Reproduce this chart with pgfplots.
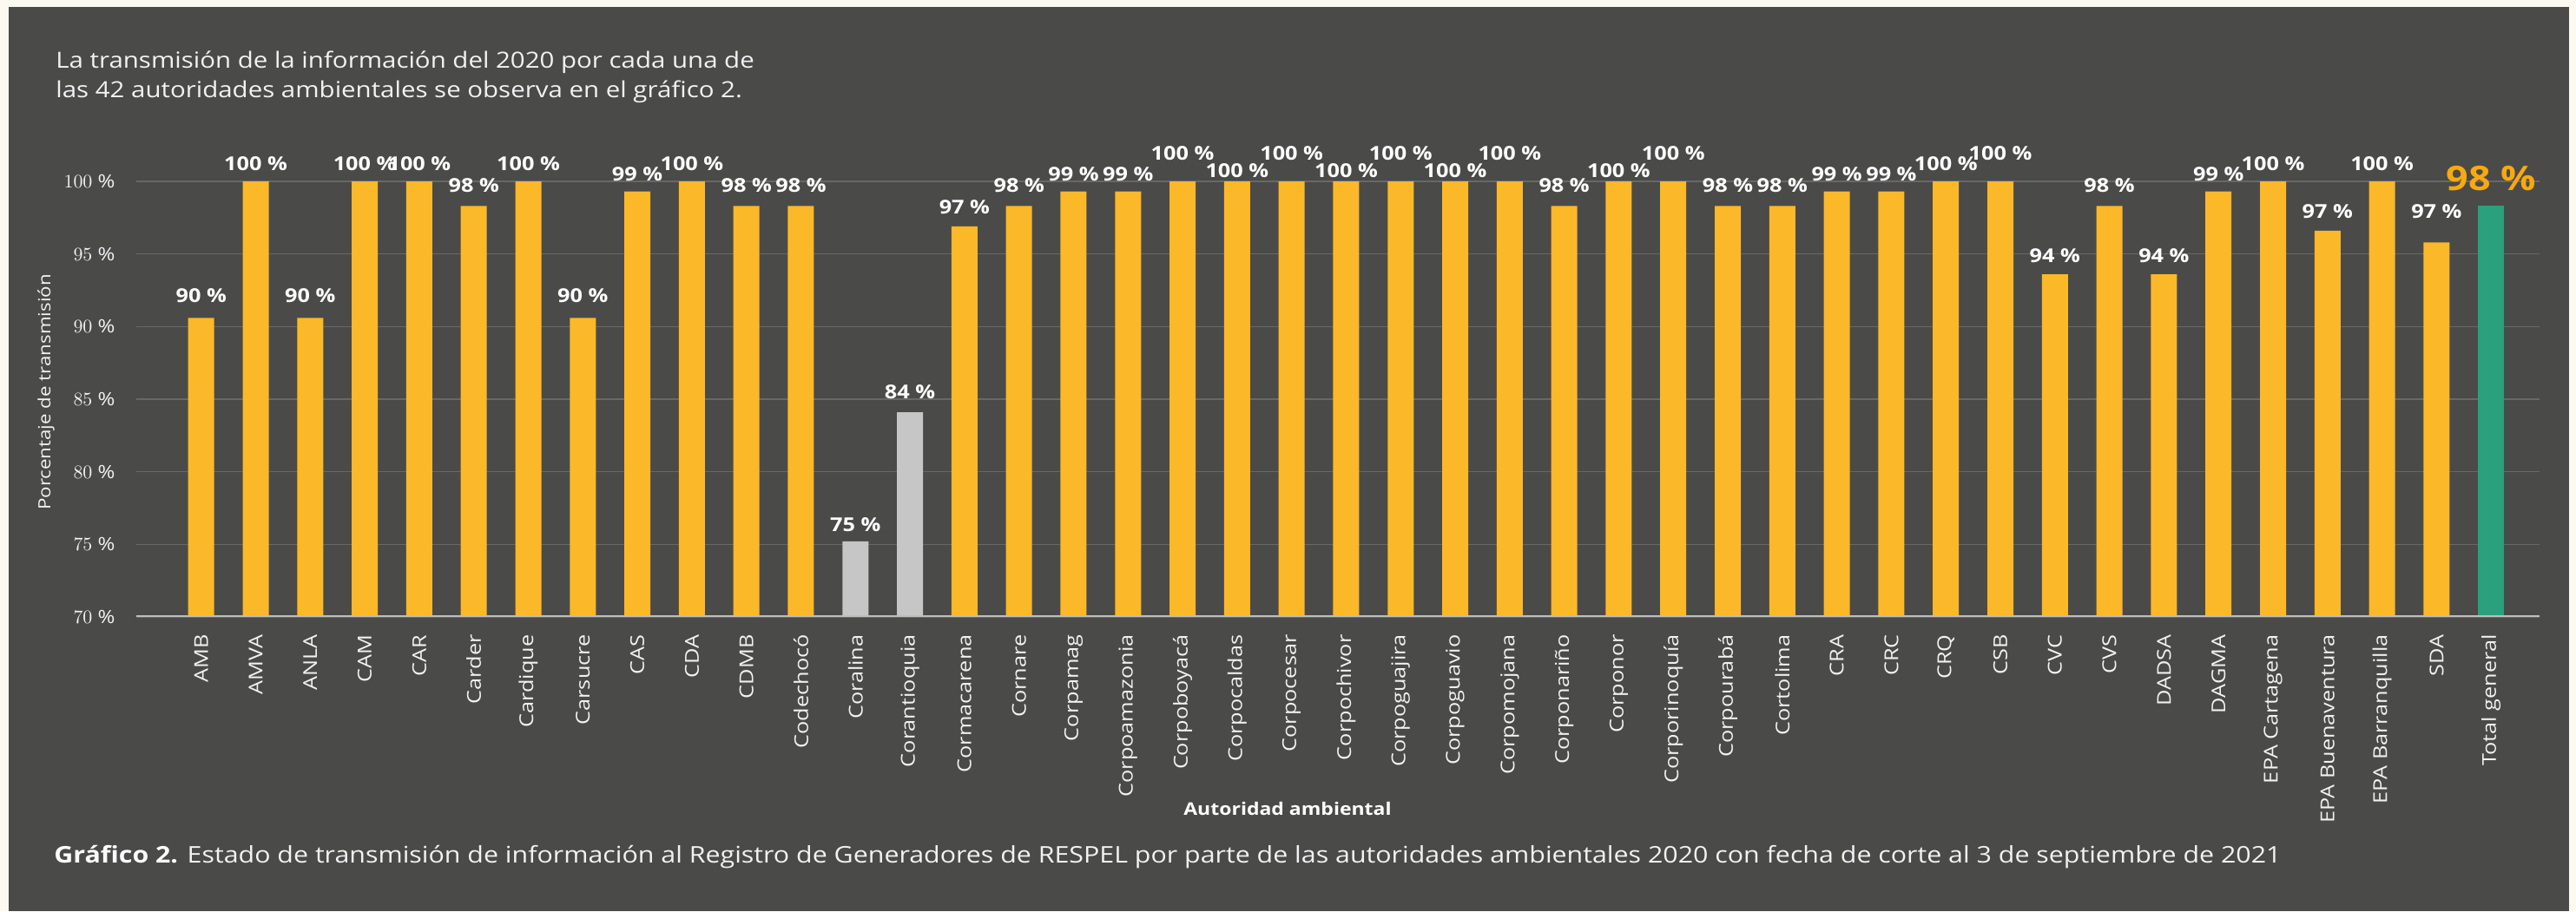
\documentclass[border=0pt]{standalone}
\usepackage{pgfplots}
\pgfplotsset{compat=1.18}
\usepackage{pgfplotstable}
\usepackage{fontspec}
\setmainfont{Open Sans}[FakeStretch=1.15]
\definecolor{bgdark}{HTML}{4A4A49}
\definecolor{cream}{HTML}{FCF9F0}
\definecolor{barorange}{HTML}{FBB829}
\definecolor{bargray}{HTML}{C6C6C6}
\definecolor{bargreen}{HTML}{2BA07C}
\definecolor{lblorange}{HTML}{F7A90E}
\definecolor{gridc}{HTML}{686866}
\definecolor{axisc}{HTML}{BEBEBE}
\definecolor{txt}{HTML}{F2F2F2}

\pgfplotstableread{
x y
0 90.6
1 100
2 90.6
3 100
4 100
5 98.3
6 100
7 90.6
8 99.3
9 100
10 98.3
11 98.3
14 96.9
15 98.3
16 99.3
17 99.3
18 100
19 100
20 100
21 100
22 100
23 100
24 100
25 98.3
26 100
27 100
28 98.3
29 98.3
30 99.3
31 99.3
32 100
33 100
34 93.6
35 98.3
36 93.6
37 99.3
38 100
39 96.6
40 100
41 95.8
}\orangedata

\pgfplotstableread{
x y
12 75.2
13 84.1
}\graydata

\pgfplotstableread{
x y
42 98.3
}\greendata

\pgfplotstableread{
x ly lab
0 91.6 90
1 100.69 100
2 91.6 90
3 100.69 100
4 100.69 100
5 99.2 98
6 100.69 100
7 91.6 90
8 99.97 99
9 100.69 100
10 99.2 98
11 99.2 98
12 75.85 75
13 85.0 84
14 97.7 97
15 99.2 98
16 99.97 99
17 99.97 99
18 101.40 100
19 100.21 100
20 101.40 100
21 100.21 100
22 101.40 100
23 100.21 100
24 101.40 100
25 99.2 98
26 100.21 100
27 101.40 100
28 99.2 98
29 99.2 98
30 99.97 99
31 99.97 99
32 100.69 100
33 101.40 100
34 94.35 94
35 99.2 98
36 94.35 94
37 99.97 99
38 100.69 100
39 97.45 97
40 100.69 100
41 97.45 97
}\labdata

\pgfplotstableread{
x ly lab
42 99.34 98
}\totallab

\begin{document}
\begin{tikzpicture}
\path[use as bounding box] (0,0) rectangle (1483.5pt,525pt);
\fill[cream] (0,0) rectangle (1483.5pt,525pt);
\fill[bgdark] (5pt,0) rectangle (1479.5pt,521pt);

\begin{axis}[
  at={(78.5pt,169.5pt)}, anchor=south west,
  scale only axis, width=1384pt, height=251pt,
  xmin=-1.19, xmax=42.89, ymin=70, ymax=100,
  ytick={70,75,...,100},
  yticklabel={\pgfmathprintnumber{\tick}~\%},
  xtick={0,...,42},
  xticklabels={AMB,AMVA,ANLA,CAM,CAR,Carder,Cardique,Carsucre,CAS,CDA,CDMB,Codechocó,Coralina,Corantioquia,Cormacarena,Cornare,Corpamag,Corpoamazonia,Corpoboyacá,Corpocaldas,Corpocesar,Corpochivor,Corpoguajira,Corpoguavio,Corpomojana,Corponariño,Corponor,Corporinoquía,Corpourabá,Cortolima,CRA,CRC,CRQ,CSB,CVC,CVS,DADSA,DAGMA,EPA Cartagena,EPA Buenaventura,EPA Barranquilla,SDA,Total general},
  axis line style={draw=none},
  major tick length=0pt,
  ymajorgrids,
  grid style={color=gridc, line width=0.75pt},
  yticklabel style={font=\fontsize{10.5pt}{12pt}\selectfont, color=txt, inner sep=0pt, xshift=-12pt},
  xticklabel style={yshift=-10pt, rotate=90, anchor=east, inner sep=0pt, font=\fontsize{11pt}{13pt}\selectfont, color=txt},
]
\addplot[ybar, bar width=15pt, bar shift=0pt, fill=barorange, draw=none] table[x=x,y=y] {\orangedata};
\addplot[ybar, bar width=15pt, bar shift=0pt, fill=bargray, draw=none] table[x=x,y=y] {\graydata};
\addplot[ybar, bar width=15pt, bar shift=0pt, fill=bargreen, draw=none] table[x=x,y=y] {\greendata};
\draw[color=axisc, line width=1.5pt] (rel axis cs:0,0) -- (rel axis cs:1,0);
\end{axis}

\begin{axis}[
  at={(78.5pt,169.5pt)}, anchor=south west,
  scale only axis, width=1384pt, height=251pt,
  xmin=-1.19, xmax=42.89, ymin=70, ymax=100,
  hide axis, clip=false,
]
\addplot[ybar, bar width=0.01pt, bar shift=0pt, draw=none, fill=none,
  point meta=explicit symbolic,
  nodes near coords={\pgfplotspointmeta~\%},
  every node near coord/.append style={font=\bfseries\fontsize{11pt}{12pt}\selectfont, color=white, inner sep=0pt}]
  table[x=x,y=ly,meta=lab] {\labdata};
\addplot[ybar, bar width=0.01pt, bar shift=0pt, draw=none, fill=none,
  point meta=explicit symbolic,
  nodes near coords={\pgfplotspointmeta~\%},
  every node near coord/.append style={font=\bfseries\fontsize{19.5pt}{22pt}\selectfont, color=lblorange, inner sep=0pt}]
  table[x=x,y=ly,meta=lab] {\totallab};
\end{axis}

\node[anchor=base west, color=txt, inner sep=0pt, font=\fontsize{12.8pt}{15pt}\selectfont] at (32pt,485.5pt) {La transmisión de la información del 2020 por cada una de};
\node[anchor=base west, color=txt, inner sep=0pt, font=\fontsize{12.8pt}{15pt}\selectfont] at (32pt,468.5pt) {las 42 autoridades ambientales se observa en el gráfico 2.};
\node[rotate=90, color=txt, inner sep=0pt, font=\fontsize{9.7pt}{12pt}\selectfont] at (26.5pt,299pt) {Porcentaje de transmisión};
\node[color=white, inner sep=0pt, font=\bfseries\fontsize{10pt}{12pt}\selectfont] at (741.5pt,59pt) {Autoridad ambiental};
\node[anchor=base west, color=txt, inner sep=0pt, font=\fontsize{13.2pt}{16pt}\selectfont] at (31pt,27.5pt) {\textbf{\color{white}Gráfico 2.} Estado de transmisión de información al Registro de Generadores de RESPEL por parte de las autoridades ambientales 2020 con fecha de corte al 3 de septiembre de 2021};
\end{tikzpicture}
\end{document}
